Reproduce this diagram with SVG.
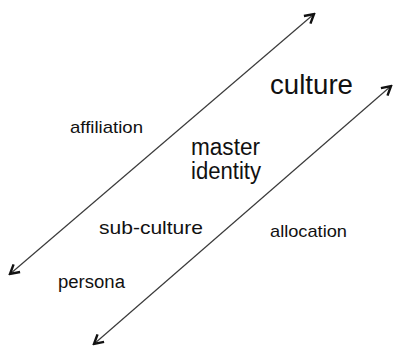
<svg xmlns="http://www.w3.org/2000/svg" width="393" height="347" viewBox="0 0 393 347">
<style>
  .lbl { font-family: "Liberation Sans", Arial, Helvetica, sans-serif; fill: #111; }
  .conn { stroke: #3a3a3a; stroke-width: 1.2; fill: none; }
</style>
<defs>
  <marker id="arr" viewBox="-12 -7 14 14" refX="0" refY="0" markerWidth="14" markerHeight="14" markerUnits="userSpaceOnUse" orient="auto-start-reverse">
    <path d="M-9,-5 L0,0 L-9,5" fill="none" stroke="#111" stroke-width="2.4" stroke-linejoin="miter"/>
  </marker>
</defs>
<rect width="393" height="347" fill="#fff"/>
<g id="connectors">
  <line class="conn" x1="10" y1="274" x2="314" y2="14" marker-start="url(#arr)" marker-end="url(#arr)"/>
  <line class="conn" x1="391" y1="86" x2="94" y2="344" marker-start="url(#arr)" marker-end="url(#arr)"/>
</g>
<g id="culture"><text class="lbl" x="270" y="94" font-size="27" textLength="83" lengthAdjust="spacingAndGlyphs">culture</text></g>
<g id="affiliation"><text class="lbl" x="70" y="133" font-size="17" textLength="73" lengthAdjust="spacingAndGlyphs">affiliation</text></g>
<g id="master-identity">
  <text class="lbl" x="191" y="155" font-size="23" textLength="69" lengthAdjust="spacingAndGlyphs">master</text>
  <text class="lbl" x="191" y="179" font-size="23" textLength="70" lengthAdjust="spacingAndGlyphs">identity</text>
</g>
<g id="sub-culture"><text class="lbl" x="99" y="234" font-size="19" textLength="104" lengthAdjust="spacingAndGlyphs">sub-culture</text></g>
<g id="allocation"><text class="lbl" x="270" y="237" font-size="17" textLength="77" lengthAdjust="spacingAndGlyphs">allocation</text></g>
<g id="persona"><text class="lbl" x="58" y="288" font-size="18" textLength="67" lengthAdjust="spacingAndGlyphs">persona</text></g>
</svg>
